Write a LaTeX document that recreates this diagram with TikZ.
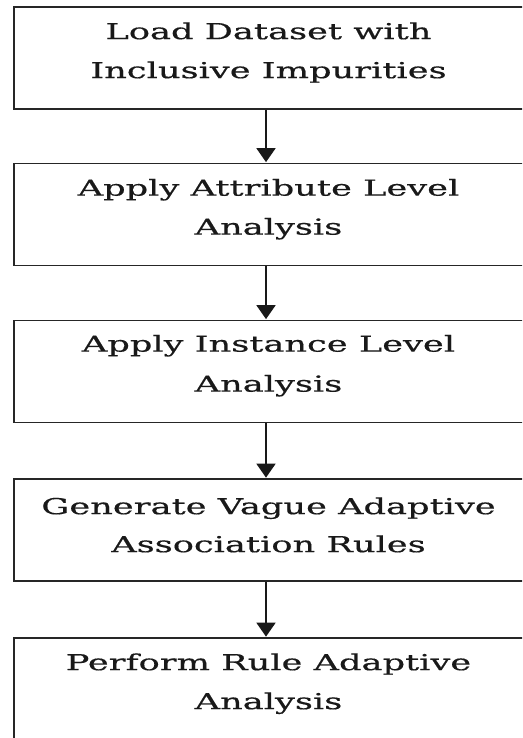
\documentclass[tikz,border=0pt]{standalone}
\usepackage{fontspec}
\setmainfont{DejaVu Serif}[FakeStretch=1.6, FakeBold=0.5]
\usetikzlibrary{arrows.meta}
\tikzset{
  stage/.style={draw=black!85, line width=1.7pt, fill=white, minimum width=511pt,
    minimum height=102pt, inner sep=0pt},
  caption/.style={anchor=base, inner sep=0pt, text=black!90,
    font=\fontsize{22pt}{26pt}\selectfont},
  flow/.style={draw=black!90, line width=1.9pt,
    -{Triangle[width=19pt,length=14pt]}, shorten >=0.5pt}
}
\begin{document}
\begin{tikzpicture}[x=1pt,y=1pt]
  \useasboundingbox (0,0) rectangle (522,738);
  \clip (0,0) rectangle (522,738);
  \fill[white] (0,0) rectangle (522,738);
  % process stages, top to bottom
  \node[stage] (load)    at (269.5,680)   {};
  \node[stage] (attr)    at (269.5,523.5) {};
  \node[stage] (inst)    at (269.5,366.5) {};
  \node[stage] (vague)   at (269.5,208)   {};
  \node[stage] (perform) at (269.5,49)    {};
  % two lines of text in each stage
  \node[caption] (load-a)    at ([xshift=-1pt,yshift=-33pt]load.north)    {Load Dataset with};
  \node[caption] (load-b)    at ([xshift=-1pt,yshift=-72pt]load.north)    {Inclusive Impurities};
  \node[caption] (attr-a)    at ([xshift=-1pt,yshift=-33pt]attr.north)    {Apply Attribute Level};
  \node[caption] (attr-b)    at ([xshift=-1pt,yshift=-72pt]attr.north)    {Analysis};
  \node[caption] (inst-a)    at ([xshift=-1pt,yshift=-32pt]inst.north)    {Apply Instance Level};
  \node[caption] (inst-b)    at ([xshift=-1pt,yshift=-72pt]inst.north)    {Analysis};
  \node[caption] (vague-a)   at ([xshift=-1pt,yshift=-36pt]vague.north)   {Generate Vague Adaptive};
  \node[caption] (vague-b)   at ([xshift=-1pt,yshift=-74pt]vague.north)   {Association Rules};
  \node[caption] (perform-a) at ([xshift=-1pt,yshift=-33pt]perform.north) {Perform Rule Adaptive};
  \node[caption] (perform-b) at ([xshift=-1pt,yshift=-72pt]perform.north) {Analysis};
  % connectors between stages
  \draw[flow] ([xshift=-3.5pt]load.south)  -- ([xshift=-3.5pt]attr.north);
  \draw[flow] ([xshift=-3.5pt]attr.south)  -- ([xshift=-3.5pt]inst.north);
  \draw[flow] ([xshift=-3.5pt]inst.south)  -- ([xshift=-3.5pt]vague.north);
  \draw[flow] ([xshift=-3.5pt]vague.south) -- ([xshift=-3.5pt]perform.north);
\end{tikzpicture}
\end{document}
